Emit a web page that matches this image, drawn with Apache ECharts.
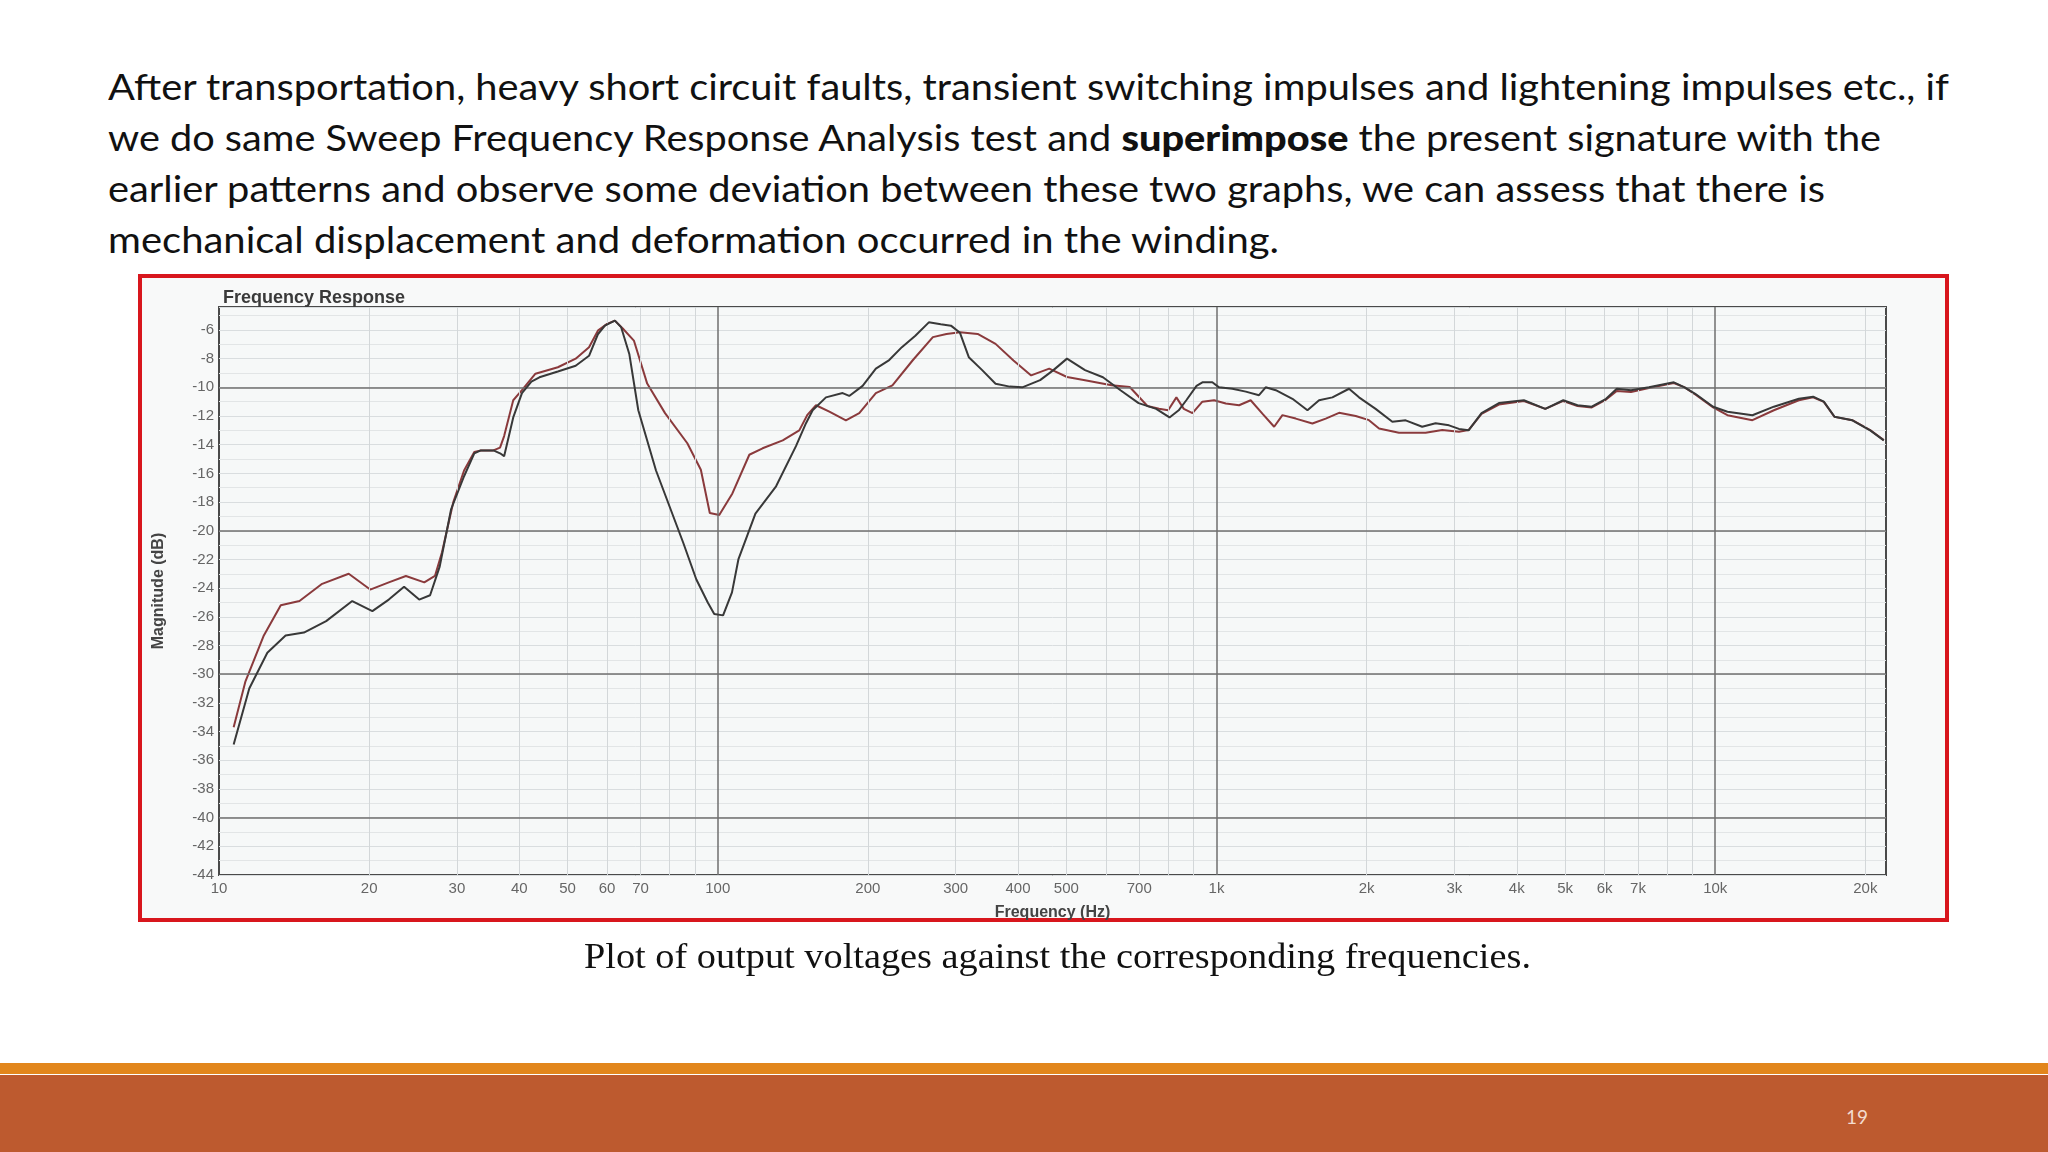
<!DOCTYPE html>
<html>
<head>
<meta charset="utf-8">
<script src="https://cdn.jsdelivr.net/npm/echarts@6/dist/echarts.min.js"></script>
<style>
  html, body { margin:0; padding:0; background:#fff; }
  #page { position:relative; width:2048px; height:1152px; overflow:hidden; background:#fff; }
  .pline { position:absolute; left:108px; height:51px; line-height:51px; font-family:Lato, "Open Sans", sans-serif; font-size:36px; color:#111; white-space:nowrap; transform-origin:0 50%; }
  .pline b { font-weight:900; }
  #frame { position:absolute; left:138px; top:274px; width:1811px; height:648px; box-sizing:border-box; border:4px solid #d8161d; background:#f8f9f9; }
  #chart { position:absolute; left:0; top:0; width:2048px; height:1152px; }
  #caption { position:absolute; left:584px; top:933px; height:46px; line-height:46px; font-family:"Liberation Serif", serif; font-size:36px; color:#111; white-space:nowrap; transform-origin:0 50%; }
  #band1 { position:absolute; left:0; top:1063px; width:2048px; height:11px; background:#e2861c; }
  #band2 { position:absolute; left:0; top:1075px; width:2048px; height:77px; background:#bd5a2f; }
  #pnum { position:absolute; left:1846px; top:1105px; font-family:Lato, sans-serif; font-size:19px; color:#f3dcd0; }
</style>
</head>
<body>
<div id="page">
  <div class="pline" data-w="1841" style="top:61px">After transportation, heavy short circuit faults, transient switching impulses and lightening impulses etc., if</div>
  <div class="pline" data-w="1773" style="top:112px">we do same Sweep Frequency Response Analysis test and <b>superimpose</b> the present signature with the</div>
  <div class="pline" data-w="1717" style="top:163px">earlier patterns and observe some deviation between these two graphs, we can assess that there is</div>
  <div class="pline" data-w="1171" style="top:214px">mechanical displacement and deformation occurred in the winding.</div>
  <div id="frame"></div>
  <div id="chart"></div>
  <div id="caption" data-w="947">Plot of output voltages against the corresponding frequencies.</div>
  <div id="band1"></div>
  <div id="band2"></div>
  <div id="pnum">19</div>
</div>
<script>
// ---- data (frequency in Hz, magnitude in dB) ----
const freqBlack = [10.7,11.5,12.5,13.6,14.8,16.4,18.5,20.3,21.9,23.5,25.2,26.5,27.7,29.2,31.0,32.5,33.5,35.5,36.6,37.3,38.9,40.5,42.3,43.9,47.8,51.9,55.2,57.5,59.4,62.2,64.0,66.5,69.3,75.2,85.2,90.6,95.5,98.4,102.5,106.8,110,119,130.9,143.5,150.3,155,164.8,178,183.5,195.2,207.5,220.7,234,249,265,280,293.5,306,318.7,339,360.6,385,408,443,471,501.5,545,592,642,698,757,805,840,870,912,937,981,1012,1076,1145,1217,1255,1315,1420,1522,1606,1708,1844,1931,2085,2252,2395,2585,2750,2926,3063,3202,3400,3684,4134,4563,4958,5295,5655,6042,6348,6779,7362,8261,8681,9120,9904,10580,11875,13110,14712,15715,16510,17345,18836,20450,21777];
const dbBlack = [-34.9,-31.0,-28.5,-27.3,-27.1,-26.3,-24.9,-25.6,-24.8,-23.9,-24.8,-24.5,-22.5,-18.5,-16.2,-14.6,-14.4,-14.4,-14.6,-14.8,-12.1,-10.4,-9.6,-9.3,-8.9,-8.5,-7.8,-6.3,-5.7,-5.35,-5.8,-7.7,-11.6,-15.8,-20.8,-23.4,-25.0,-25.8,-25.9,-24.3,-22.0,-18.8,-16.9,-14.1,-12.5,-11.6,-10.7,-10.4,-10.6,-9.9,-8.7,-8.1,-7.2,-6.4,-5.47,-5.6,-5.7,-6.2,-7.9,-8.8,-9.75,-9.95,-10.0,-9.5,-8.8,-8.0,-8.8,-9.3,-10.2,-11.1,-11.5,-12.1,-11.6,-10.9,-9.9,-9.65,-9.65,-10.0,-10.1,-10.3,-10.55,-10.0,-10.2,-10.8,-11.6,-10.9,-10.7,-10.1,-10.7,-11.5,-12.4,-12.3,-12.75,-12.5,-12.65,-12.9,-13.0,-11.8,-11.1,-10.9,-11.5,-10.9,-11.25,-11.35,-10.8,-10.1,-10.2,-10.0,-9.65,-10.0,-10.45,-11.35,-11.7,-11.95,-11.35,-10.8,-10.65,-11.0,-12.05,-12.3,-13.0,-13.7];

const freqRed = [10.7,11.3,12.3,13.3,14.5,16.1,18.2,20.1,21.9,23.7,25.8,27.1,28.0,29.5,31.0,32.5,33.5,35.5,36.6,37.3,38.9,40.5,43.1,47.8,51.9,55.2,57.5,60.0,62.2,64.5,67.9,72.2,78.4,86.9,92.5,96.4,100.7,107,115.7,123,135,145.7,151.4,157.4,167.4,180.7,192.2,207.5,224,245.8,270,287.5,306,332,360.6,391.7,425,462,501.5,545,616,670,727,767,800,831,860,895,937,989,1044,1110,1171,1236,1305,1356,1442,1557,1656,1761,1902,2022,2118,2322,2626,2836,3063,3202,3400,3684,4134,4563,4958,5295,5655,6042,6348,6779,7362,8261,8681,9120,9904,10580,11875,13110,14712,15715,16510,17345,18836,20450,21777];
const dbRed = [-33.7,-30.5,-27.3,-25.2,-24.9,-23.7,-23.0,-24.1,-23.6,-23.15,-23.6,-23.15,-21.5,-18.0,-15.8,-14.5,-14.4,-14.4,-14.2,-13.4,-10.9,-10.2,-9.05,-8.6,-8.0,-7.2,-6.05,-5.58,-5.35,-5.9,-6.74,-9.74,-11.8,-13.9,-15.75,-18.76,-18.9,-17.4,-14.7,-14.25,-13.7,-13.0,-11.9,-11.25,-11.7,-12.3,-11.8,-10.4,-9.86,-8.13,-6.5,-6.28,-6.16,-6.28,-6.97,-8.13,-9.17,-8.7,-9.28,-9.5,-9.86,-9.98,-11.3,-11.5,-11.6,-10.7,-11.5,-11.8,-11.0,-10.9,-11.13,-11.25,-10.9,-11.83,-12.75,-11.94,-12.18,-12.52,-12.18,-11.78,-12.0,-12.29,-12.87,-13.17,-13.17,-12.98,-13.1,-12.98,-11.85,-11.2,-10.95,-11.5,-10.95,-11.3,-11.4,-10.85,-10.25,-10.32,-10.05,-9.7,-10.0,-10.5,-11.4,-11.94,-12.29,-11.6,-10.9,-10.7,-11.02,-12.06,-12.29,-12.98,-13.68];

const xLabelValues = [10,20,30,40,50,60,70,100,200,300,400,500,700,1000,2000,3000,4000,5000,6000,7000,10000,20000];
const minorFreqLines = [20,30,40,50,60,70,80,90,200,300,400,500,600,700,800,900,2000,3000,4000,5000,6000,7000,8000,9000,20000];
const majorFreqLines = [100,1000,10000];
const majorDbLines = [-10,-20,-30,-40];

// ---- text fitting (width of each text line as in the slide) ----
document.querySelectorAll('[data-w]').forEach(el => {
  const target = parseFloat(el.getAttribute('data-w'));
  const w = el.getBoundingClientRect().width;
  if (w > 0) el.style.transform = 'scaleX(' + (target / w) + ')';
});

const chart = echarts.init(document.getElementById('chart'), null, {renderer: 'canvas'});
const zip = (f, d) => f.map((v, i) => [v, d[i]]);
const fmtFreq = v => {
  const r = Math.round(v);
  return r >= 1000 ? (r / 1000) + 'k' : String(r);
};
const labelFont = 'Liberation Sans';

chart.setOption({
  animation: false,
  backgroundColor: 'transparent',
  title: {
    text: 'Frequency Response',
    left: 218, top: 284,
    textStyle: {fontSize: 18, fontWeight: 'bold', color: '#3a3a3a', fontFamily: labelFont}
  },
  grid: {
    left: 219, top: 307, width: 1667, height: 568,
    show: true, borderColor: '#4a4a4a', borderWidth: 2, backgroundColor: '#f6f8f8'
  },
  xAxis: {
    type: 'log', logBase: 10, min: 10, max: 22000,
    name: 'Frequency (Hz)', nameLocation: 'middle', nameGap: 30,
    nameTextStyle: {fontSize: 16, fontWeight: 'bold', color: '#444', fontFamily: labelFont},
    axisLine: {show: false}, axisTick: {show: false},
    splitLine: {show: false},
    axisLabel: {
      customValues: xLabelValues, formatter: fmtFreq,
      fontSize: 15, color: '#666', margin: 6, fontFamily: labelFont
    }
  },
  yAxis: {
    type: 'value', min: -44, max: -4.4, interval: 2,
    name: 'Magnitude (dB)', nameLocation: 'middle', nameGap: 52, nameRotate: 90,
    nameTextStyle: {fontSize: 16, fontWeight: 'bold', color: '#444', fontFamily: labelFont},
    axisLine: {show: false}, axisTick: {show: false},
    axisLabel: {showMaxLabel: false, fontSize: 15, color: '#666', margin: 5, fontFamily: labelFont},
    splitLine: {show: true, lineStyle: {color: '#d9dddf', width: 1}},
    minorTick: {show: false, splitNumber: 2},
    minorSplitLine: {show: true, lineStyle: {color: '#e2e5e6', width: 1}}
  },
  series: [
    {
      type: 'line', name: 'minorGrid', data: [[10, -44]], symbol: 'none', silent: true, z: 1,
      lineStyle: {opacity: 0},
      markLine: {
        silent: true, symbol: ['none', 'none'], label: {show: false},
        lineStyle: {color: '#d3d7d9', width: 1, type: 'solid'},
        data: minorFreqLines.map(v => ({xAxis: v}))
      }
    },
    {
      type: 'line', name: 'majorGrid', data: [[10, -44]], symbol: 'none', silent: true, z: 2,
      lineStyle: {opacity: 0},
      markLine: {
        silent: true, symbol: ['none', 'none'], label: {show: false},
        lineStyle: {color: '#6f6f6f', width: 1.5, type: 'solid'},
        data: majorFreqLines.map(v => ({xAxis: v})).concat(majorDbLines.map(v => ({yAxis: v})))
      }
    },
    {
      type: 'line', name: 'Earlier signature', data: zip(freqRed, dbRed),
      symbol: 'none', z: 4, lineStyle: {color: '#8a3a3c', width: 2}
    },
    {
      type: 'line', name: 'Present signature', data: zip(freqBlack, dbBlack),
      symbol: 'none', z: 5, lineStyle: {color: '#383838', width: 2}
    }
  ]
});
</script>
</body>
</html>
